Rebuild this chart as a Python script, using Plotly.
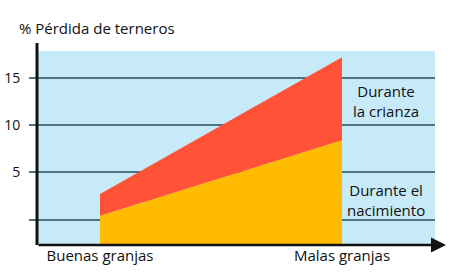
import plotly.graph_objects as go

# Data
categories = ["Buenas granjas", "Malas granjas"]
x_pos = [0, 1]
nacimiento = [0.4, 8.4]      # "Durante el nacimiento" (top of yellow)
crianza_total = [2.7, 17.2]  # top of red (stacked total)
y_ticks = [0, 5, 10, 15]
y_tick_labels = ["", "5", "10", "15"]
Y_MIN = -2.7
Y_MAX = 17.85

W, H = 450, 277
L, R, T, B = 37, 435, 51, 245

RED = "#FF5237"
YELLOW = "#FFBB00"
BLUE = "#C6EAF7"
GRID = "#4E7480"
FONT = "Open Sans"

fig = go.Figure()
fig.add_trace(go.Scatter(x=x_pos, y=[Y_MIN, Y_MIN], mode="lines",
                         line=dict(width=0), hoverinfo="skip", showlegend=False))
fig.add_trace(go.Scatter(x=x_pos, y=nacimiento, mode="lines", fill="tonexty",
                         fillcolor=YELLOW, line=dict(width=0), showlegend=False))
fig.add_trace(go.Scatter(x=x_pos, y=crianza_total, mode="lines", fill="tonexty",
                         fillcolor=RED, line=dict(width=0), showlegend=False))

px_per_unit = 242
x_left = -(100 - L) / px_per_unit
x_right = 1 + (R - 342) / px_per_unit

fig.update_layout(
    width=W, height=H,
    margin=dict(l=L, r=W - R, t=T, b=H - B, pad=0, autoexpand=False),
    paper_bgcolor="white",
    plot_bgcolor=BLUE,
    font=dict(family=FONT, color="#111", size=13),
    xaxis=dict(range=[x_left, x_right], tickvals=x_pos, ticktext=categories,
               showgrid=False, zeroline=False, showline=False, ticks="",
               tickfont=dict(size=15), fixedrange=True, automargin=False),
    yaxis=dict(range=[Y_MIN, Y_MAX], tickvals=y_ticks, ticktext=y_tick_labels,
               showgrid=True, gridcolor=GRID, gridwidth=2, zeroline=False,
               showline=False, ticks="outside", ticklen=7, tickcolor=GRID,
               tickwidth=2, tickfont=dict(size=14), ticklabelstandoff=6,
               fixedrange=True, automargin=False),
)

fig.update_yaxes(layer="above traces")

ph = B - T
pw = R - L
fig.add_shape(type="line", xref="paper", yref="paper",
              x0=0, x1=0, y0=0, y1=(B - 43) / ph,
              line=dict(color="#111", width=3))
fig.add_annotation(xref="paper", yref="paper", x=(446 - L) / pw, y=0,
                   ax=-(446 - L), ay=0, axref="pixel", ayref="pixel",
                   showarrow=True, arrowhead=2, arrowsize=1.2, arrowwidth=2.5,
                   arrowcolor="#111", text="")

fig.add_annotation(xref="paper", yref="paper", x=(17 - L) / pw, y=(B - 28) / ph,
                   text="% Pérdida de terneros", showarrow=False,
                   xanchor="left", yanchor="middle", font=dict(size=15))
fig.add_annotation(xref="paper", yref="paper", x=(386 - L) / pw, y=(B - 101) / ph,
                   text="Durante<br>la crianza", showarrow=False,
                   xanchor="center", yanchor="middle", font=dict(size=15))
fig.add_annotation(xref="paper", yref="paper", x=(386 - L) / pw, y=(B - 200) / ph,
                   text="Durante el<br>nacimiento", showarrow=False,
                   xanchor="center", yanchor="middle", font=dict(size=15))

fig.write_html("out.html")
